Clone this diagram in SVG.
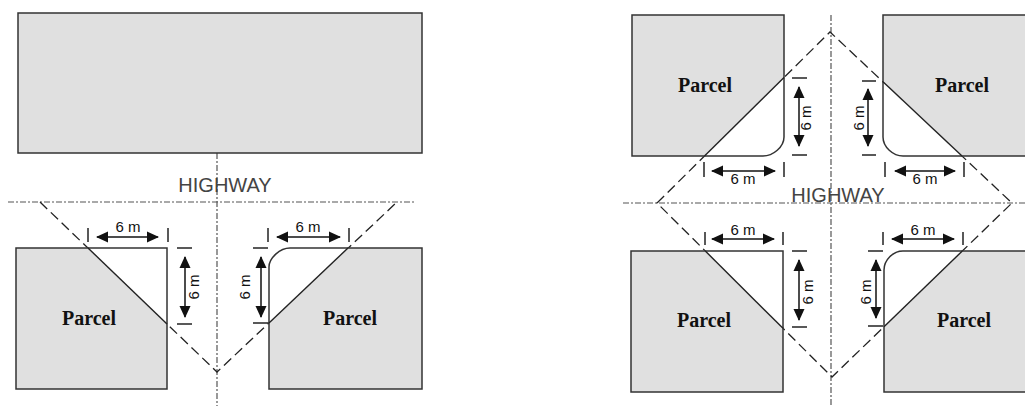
<svg xmlns="http://www.w3.org/2000/svg" width="1025" height="406" viewBox="0 0 1025 406">
<defs>
<marker id="ah" viewBox="0 0 12 12" refX="11" refY="6" markerWidth="12" markerHeight="12" markerUnits="userSpaceOnUse" orient="auto-start-reverse">
<path d="M0,0.5 L12,6 L0,11.5 z" fill="#111"/>
</marker>
<style>
.white{fill:#fff;stroke:none}
.gray{fill:#e0e0e0;stroke:none}
.outline{fill:none;stroke:#333;stroke-width:1.5;stroke-linejoin:miter}
.diag{fill:none;stroke:#222;stroke-width:1.4}
.dash{fill:none;stroke:#222;stroke-width:1.3;stroke-dasharray:10 5}
.axis{fill:none;stroke:#555;stroke-width:1.2;stroke-dasharray:6 2 2 2}
.tick{fill:none;stroke:#222;stroke-width:1.5}
.dim{fill:none;stroke:#111;stroke-width:1.5;marker-start:url(#ah);marker-end:url(#ah)}
.parcel{font-family:"Liberation Serif",serif;font-weight:bold;font-size:20px;fill:#111;text-anchor:middle}
.meas{font-family:"Liberation Sans",Arial,sans-serif;font-size:15px;fill:#111;text-anchor:middle}
.hw{font-family:"Liberation Sans",Arial,sans-serif;font-size:20px;fill:#444;text-anchor:middle}
</style>
</defs>
<rect width="1025" height="406" fill="#fff"/>

<g id="connectors">
  <line class="axis" x1="8" y1="202" x2="415" y2="202"/>
  <line class="axis" x1="217" y1="153" x2="217" y2="406"/>
  <line class="axis" x1="623" y1="203" x2="1025" y2="203"/>
  <line class="axis" x1="831" y1="15" x2="831" y2="406"/>
  <polyline class="dash" points="40,202 217,372 397,202"/>
  <polygon class="dash" points="657,203 830,32 1012,203 832,377"/>
</g>

<g id="top-block">
  <rect x="18" y="13" width="404" height="140" fill="#e0e0e0" stroke="#333" stroke-width="1.5"/>
</g>

<g id="parcel-l1">
  <rect class="white" x="16" y="248" width="151" height="141"/>
  <polygon class="gray" points="16,248 88,248 167,324 167,389 16,389"/>
  <rect class="outline" x="16" y="248" width="151" height="141"/>
  <line class="diag" x1="88" y1="248" x2="167" y2="324"/>
  <text class="parcel" x="89" y="325">Parcel</text>
</g>

<g id="parcel-l2">
  <path class="white" d="M290,248 H422 V389 H269 V267 C269,258 280,248 290,248 Z"/>
  <polygon class="gray" points="348,248 422,248 422,389 269,389 269,323"/>
  <path class="outline" d="M290,248 H422 V389 H269 V267 C269,258 280,248 290,248 Z"/>
  <line class="diag" x1="348" y1="248" x2="269" y2="323"/>
  <text class="parcel" x="350" y="325">Parcel</text>
</g>

<g id="parcel-r1">
  <path class="white" d="M632,15 H784 V137 C784,147 773,156 763,156 H632 Z"/>
  <polygon class="gray" points="632,15 784,15 784,77.5 704.5,156 632,156"/>
  <path class="outline" d="M632,15 H784 V137 C784,147 773,156 763,156 H632 Z"/>
  <line class="diag" x1="704.5" y1="156" x2="784" y2="77.5"/>
  <text class="parcel" x="705" y="92">Parcel</text>
</g>

<g id="parcel-r2">
  <path class="white" d="M1030,15 H883 V137 C883,147 893,156 903,156 H1030 Z"/>
  <polygon class="gray" points="883,15 1030,15 1030,156 962,156 883,81.8"/>
  <path class="outline" d="M1030,15 H883 V137 C883,147 893,156 903,156 H1030"/>
  <line class="diag" x1="883" y1="81.8" x2="962" y2="156"/>
  <text class="parcel" x="962" y="92">Parcel</text>
</g>

<g id="parcel-r3">
  <rect class="white" x="631" y="251" width="152" height="141"/>
  <polygon class="gray" points="631,251 705.3,251 783,328.3 783,392 631,392"/>
  <rect class="outline" x="631" y="251" width="152" height="141"/>
  <line class="diag" x1="705.3" y1="251" x2="783" y2="328.3"/>
  <text class="parcel" x="704" y="327">Parcel</text>
</g>

<g id="parcel-r4">
  <path class="white" d="M1030,251 H903 C893,251 884,260 884,270 V392 H1030 Z"/>
  <polygon class="gray" points="962.3,251 1030,251 1030,392 884,392 884,326.7"/>
  <path class="outline" d="M1030,251 H903 C893,251 884,260 884,270 V392 H1030"/>
  <line class="diag" x1="962.3" y1="251" x2="884" y2="326.7"/>
  <text class="parcel" x="964" y="327">Parcel</text>
</g>

<g id="labels-highway">
  <text class="hw" x="225" y="192">HIGHWAY</text>
  <text class="hw" x="838" y="202">HIGHWAY</text>
</g>

<g id="dimensions">
  <line class="tick" x1="88" y1="228" x2="88" y2="242"/>
  <line class="tick" x1="168" y1="228" x2="168" y2="242"/>
  <line class="dim" x1="97" y1="237" x2="158" y2="237"/>
  <text class="meas" x="128" y="232">6 m</text>
  <line class="tick" x1="177" y1="248" x2="192" y2="248"/>
  <line class="tick" x1="177" y1="324" x2="192" y2="324"/>
  <line class="dim" x1="185" y1="257" x2="185" y2="317"/>
  <text class="meas" x="199" y="287" transform="rotate(-90 199 287)">6 m</text>

  <line class="tick" x1="268" y1="228" x2="268" y2="242"/>
  <line class="tick" x1="349" y1="228" x2="349" y2="242"/>
  <line class="dim" x1="277" y1="237" x2="340" y2="237"/>
  <text class="meas" x="308" y="232">6 m</text>
  <line class="tick" x1="253" y1="248" x2="268" y2="248"/>
  <line class="tick" x1="253" y1="323" x2="268" y2="323"/>
  <line class="dim" x1="261" y1="257" x2="261" y2="317"/>
  <text class="meas" x="250" y="287" transform="rotate(-90 250 287)">6 m</text>

  <line class="tick" x1="704" y1="162" x2="704" y2="177"/>
  <line class="tick" x1="784" y1="162" x2="784" y2="177"/>
  <line class="dim" x1="712" y1="171" x2="775" y2="171"/>
  <text class="meas" x="743" y="184">6 m</text>
  <line class="tick" x1="792" y1="78" x2="807" y2="78"/>
  <line class="tick" x1="792" y1="155" x2="807" y2="155"/>
  <line class="dim" x1="799" y1="87" x2="799" y2="146"/>
  <text class="meas" x="811" y="118" transform="rotate(-90 811 118)">6 m</text>

  <line class="tick" x1="885" y1="162" x2="885" y2="177"/>
  <line class="tick" x1="964" y1="162" x2="964" y2="177"/>
  <line class="dim" x1="895" y1="171" x2="955" y2="171"/>
  <text class="meas" x="925" y="184">6 m</text>
  <line class="tick" x1="862" y1="81" x2="876" y2="81"/>
  <line class="tick" x1="862" y1="155" x2="876" y2="155"/>
  <line class="dim" x1="868" y1="89" x2="868" y2="146"/>
  <text class="meas" x="864" y="118" transform="rotate(-90 864 118)">6 m</text>

  <line class="tick" x1="705" y1="232" x2="705" y2="245"/>
  <line class="tick" x1="783" y1="232" x2="783" y2="245"/>
  <line class="dim" x1="712" y1="239" x2="774" y2="239"/>
  <text class="meas" x="743" y="235">6 m</text>
  <line class="tick" x1="792" y1="251" x2="807" y2="251"/>
  <line class="tick" x1="792" y1="327" x2="807" y2="327"/>
  <line class="dim" x1="799" y1="260" x2="799" y2="320"/>
  <text class="meas" x="813" y="292" transform="rotate(-90 813 292)">6 m</text>

  <line class="tick" x1="883" y1="232" x2="883" y2="245"/>
  <line class="tick" x1="963" y1="232" x2="963" y2="245"/>
  <line class="dim" x1="892" y1="239" x2="954" y2="239"/>
  <text class="meas" x="923" y="235">6 m</text>
  <line class="tick" x1="868" y1="251" x2="883" y2="251"/>
  <line class="tick" x1="868" y1="326" x2="883" y2="326"/>
  <line class="dim" x1="876" y1="260" x2="876" y2="318"/>
  <text class="meas" x="871" y="292" transform="rotate(-90 871 292)">6 m</text>
</g>
</svg>
